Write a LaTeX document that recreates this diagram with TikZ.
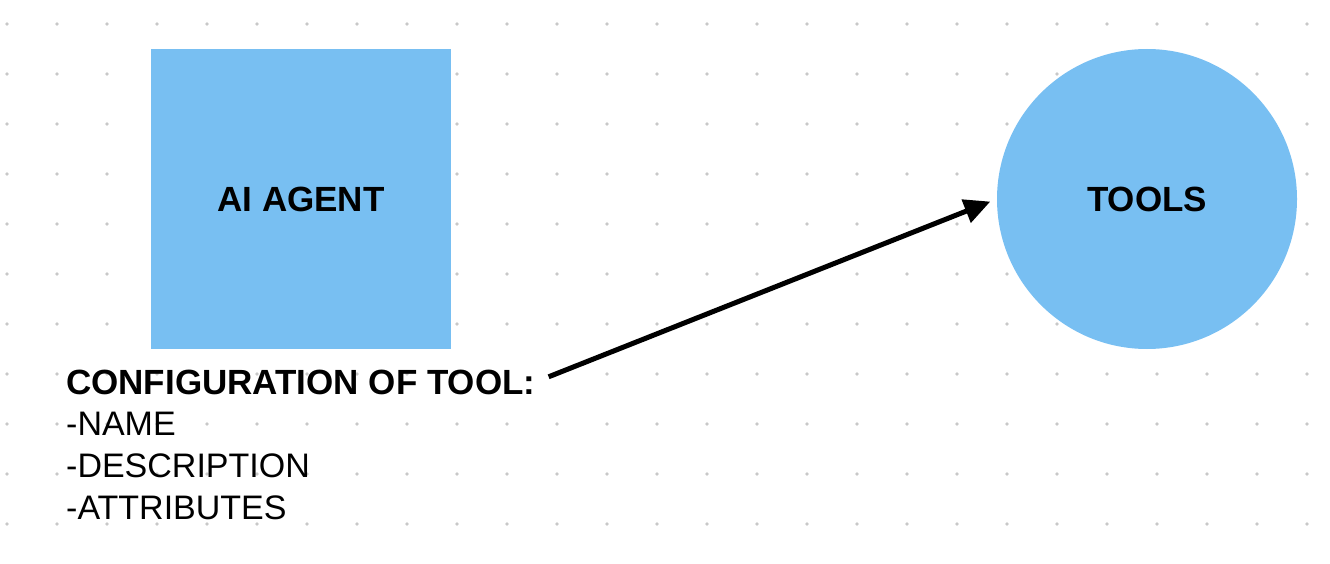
\documentclass[tikz,border=0pt]{standalone}
\usepackage{fontspec}
\setmainfont{Liberation Sans}
\usepackage{tikz}
\usetikzlibrary{positioning, arrows.meta}
\definecolor{toolblue}{HTML}{78BFF2}
\definecolor{dotgray}{HTML}{C8C8C8}

\begin{document}
\begin{tikzpicture}[x=1pt, y=-1pt,
  blueshape/.style={fill=toolblue, minimum size=300pt, inner sep=0pt, font=\fontsize{35}{40}\selectfont\bfseries},
  listtext/.style={inner sep=0pt, align=left, font=\fontsize{34}{42}\selectfont}]
\useasboundingbox (0,0) rectangle (1330,564);
\foreach \x in {7,57,...,1307}
  \foreach \y in {24,74,...,524}
    \fill[dotgray] (\x,\y) circle (1.8pt);

\node[blueshape, rectangle] (agent) at (301,199) {AI AGENT};
\node[blueshape, circle] (tools) at (1147,199) {TOOLS};

\node[listtext, anchor=base west, font=\fontsize{35}{42}\selectfont\bfseries] (config) at (66,394) {CONFIGURATION OF TOOL:};
\node[listtext, anchor=base west] (fields) at (66,519) {-NAME\\-DESCRIPTION\\-ATTRIBUTES};

\draw[-{Triangle[length=26pt, width=24pt]}, line width=5pt, shorten <=14pt, shorten >=7pt] (config.east) -- (tools.west);
\end{tikzpicture}
\end{document}
